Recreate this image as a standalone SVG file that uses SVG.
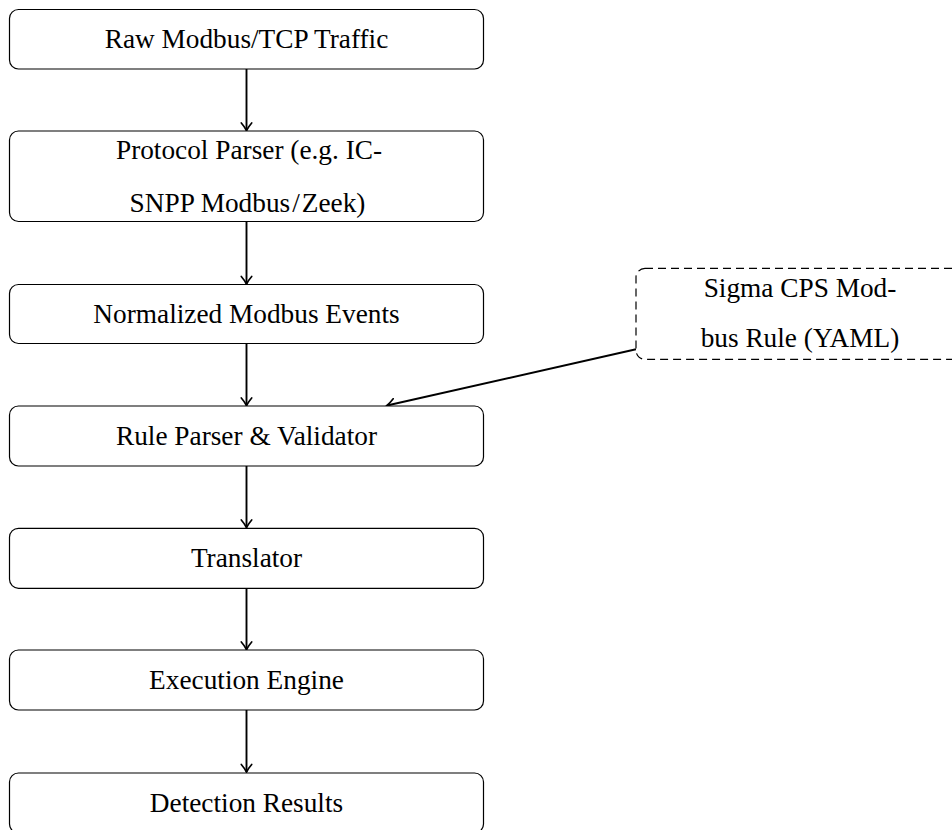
<svg xmlns="http://www.w3.org/2000/svg" width="952" height="830" viewBox="0 0 952 830">
<style>
.box{fill:#fff;stroke:#000;stroke-width:1.2}
.dash{fill:#fff;stroke:#000;stroke-width:1.2;stroke-dasharray:8 5}
.lbl{font-family:"Liberation Serif","Times New Roman",serif;font-size:27.3px;fill:#000;text-anchor:middle}
.edge{fill:none;stroke:#000;stroke-width:1.9;marker-end:url(#ah)}
</style>
<defs>
<marker id="ah" markerUnits="userSpaceOnUse" markerWidth="16" markerHeight="16" viewBox="-9 -8 11 16" refX="0" refY="0" orient="auto" overflow="visible">
<path d="M-7.5,-5.2 C-4,-2.2 -1,-0.5 0,0 C-1,0.5 -4,2.2 -7.5,5.2" fill="none" stroke="#000" stroke-width="1.7" stroke-linecap="round"/>
</marker>
</defs>
<rect width="952" height="830" fill="#fff"/>
<g id="connectors">
<line class="edge" x1="246.5" y1="69" x2="246.5" y2="130.5"/>
<line class="edge" x1="246.5" y1="221.5" x2="246.5" y2="284"/>
<line class="edge" x1="246.5" y1="343.5" x2="246.5" y2="405.5"/>
<line class="edge" x1="246.5" y1="465.5" x2="246.5" y2="527.5"/>
<line class="edge" x1="246.5" y1="587.5" x2="246.5" y2="649.5"/>
<line class="edge" x1="246.5" y1="709.5" x2="246.5" y2="772"/>
<line class="edge" x1="636" y1="349.3" x2="387" y2="405.5"/>
</g>
<g id="raw">
<rect class="box" x="9.5" y="9.5" width="474" height="59.5" rx="9"/>
<text class="lbl" x="246.5" y="48.3">Raw Modbus/TCP Traffic</text>
</g>
<g id="parser">
<rect class="box" x="9.5" y="131" width="474" height="90.5" rx="9"/>
<text class="lbl" x="249" y="159.3">Protocol Parser (e.g. IC-</text>
<text class="lbl" x="247.5" y="211.7">SNPP Modbus<tspan dx="2">/</tspan><tspan dx="2">Zeek)</tspan></text>
</g>
<g id="normalized">
<rect class="box" x="9.5" y="284.5" width="474" height="59" rx="9"/>
<text class="lbl" x="246.5" y="323.3">Normalized Modbus Events</text>
</g>
<g id="sigma">
<rect class="dash" x="636" y="268.3" width="330" height="91" rx="9"/>
<text class="lbl" x="800" y="297.3">Sigma CPS Mod-</text>
<text class="lbl" x="800" y="346.7">bus Rule (YAML)</text>
</g>
<g id="ruleparser">
<rect class="box" x="9.5" y="406" width="474" height="60" rx="9"/>
<text class="lbl" x="246.5" y="445">Rule Parser &amp; Validator</text>
</g>
<g id="translator">
<rect class="box" x="9.5" y="528.3" width="474" height="60" rx="9"/>
<text class="lbl" x="246.5" y="567.3">Translator</text>
</g>
<g id="engine">
<rect class="box" x="9.5" y="650" width="474" height="60" rx="9"/>
<text class="lbl" x="246.5" y="689">Execution Engine</text>
</g>
<g id="results">
<rect class="box" x="9.5" y="773" width="474" height="60" rx="9"/>
<text class="lbl" x="246.5" y="812">Detection Results</text>
</g>
</svg>
